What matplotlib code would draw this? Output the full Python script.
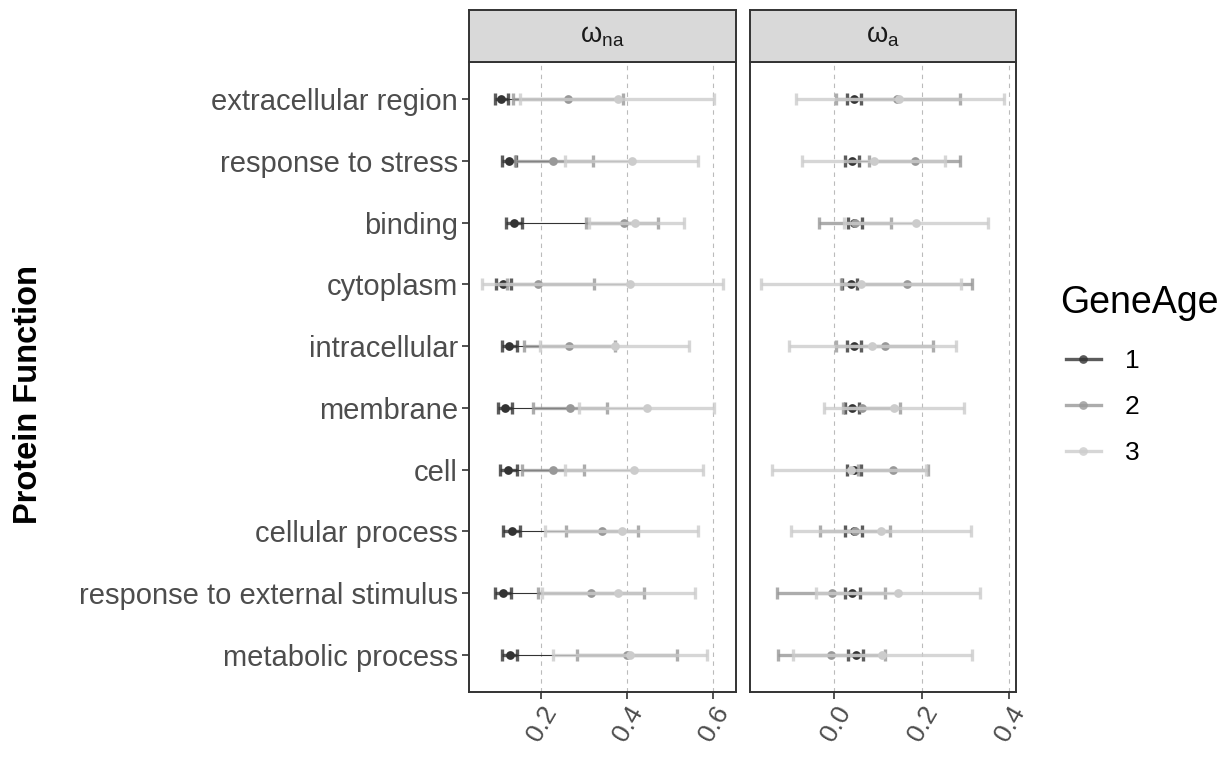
import numpy as np
import matplotlib
matplotlib.use("Agg")
import matplotlib.pyplot as plt
from matplotlib.lines import Line2D

plt.rcParams["font.family"] = ["Liberation Sans", "DejaVu Sans"]
plt.rcParams["mathtext.fontset"] = "custom"
plt.rcParams["mathtext.rm"] = "Liberation Sans"
plt.rcParams["mathtext.it"] = "Liberation Sans:italic"

funcs = ["extracellular region", "response to stress", "binding", "cytoplasm",
         "intracellular", "membrane", "cell", "cellular process",
         "response to external stimulus", "metabolic process"]
ages = ["1", "2", "3"]

# omega_na : point, lower, upper for each gene age
wna_mid = [[0.107, 0.125, 0.137, 0.112, 0.126, 0.116, 0.123, 0.132, 0.111, 0.128],
           [0.262, 0.229, 0.392, 0.192, 0.266, 0.267, 0.227, 0.341, 0.316, 0.399],
           [0.378, 0.411, 0.419, 0.407, 0.372, 0.446, 0.417, 0.388, 0.380, 0.407]]
wna_lo = [[0.093, 0.109, 0.119, 0.095, 0.110, 0.100, 0.105, 0.112, 0.093, 0.110],
          [0.136, 0.140, 0.304, 0.120, 0.160, 0.181, 0.155, 0.258, 0.194, 0.283],
          [0.151, 0.256, 0.312, 0.062, 0.198, 0.288, 0.256, 0.209, 0.202, 0.229]]
wna_hi = [[0.123, 0.142, 0.155, 0.130, 0.145, 0.133, 0.144, 0.151, 0.130, 0.145],
          [0.390, 0.322, 0.471, 0.323, 0.371, 0.354, 0.299, 0.425, 0.439, 0.517],
          [0.603, 0.564, 0.532, 0.624, 0.545, 0.603, 0.576, 0.565, 0.557, 0.587]]

# omega_a
wa_mid = [[0.044, 0.040, 0.046, 0.038, 0.044, 0.040, 0.046, 0.044, 0.040, 0.049],
          [0.143, 0.184, 0.048, 0.166, 0.116, 0.063, 0.134, 0.048, -0.006, -0.007],
          [0.148, 0.090, 0.188, 0.061, 0.087, 0.137, 0.038, 0.108, 0.145, 0.110]]
wa_lo = [[0.030, 0.025, 0.031, 0.018, 0.028, 0.024, 0.028, 0.025, 0.025, 0.032],
         [0.005, 0.080, -0.036, 0.016, 0.005, 0.020, 0.055, -0.033, -0.131, -0.130],
         [-0.087, -0.073, 0.023, -0.168, -0.104, -0.024, -0.142, -0.098, -0.043, -0.095]]
wa_hi = [[0.061, 0.056, 0.064, 0.053, 0.061, 0.057, 0.061, 0.063, 0.058, 0.066],
         [0.287, 0.287, 0.130, 0.316, 0.227, 0.150, 0.214, 0.128, 0.117, 0.116],
         [0.389, 0.253, 0.352, 0.290, 0.279, 0.297, 0.209, 0.313, 0.333, 0.316]]

colors = ["#333333", "#989898", "#cccccc"]
ypos = np.arange(len(funcs))[::-1] + 1  # top category first

fig = plt.figure(figsize=(12.25, 7.57), dpi=100)
W, H = 1225, 757
ax1 = fig.add_axes([469 / W, 1 - 692 / H, 267 / W, 630 / H])
ax2 = fig.add_axes([750 / W, 1 - 692 / H, 266 / W, 630 / H])


def draw_panel(ax, mid, lo, hi):
    # thin connecting lines between the age points of each function
    for k in range(2):
        for j in range(len(funcs)):
            ax.plot([mid[k][j], mid[k + 1][j]], [ypos[j], ypos[j]], color=colors[k],
                    lw=0.8, zorder=2)
    for k in range(3):
        m = np.array(mid[k])
        err = [m - np.array(lo[k]), np.array(hi[k]) - m]
        ax.errorbar(m, ypos, xerr=err, fmt="none", ecolor=colors[k], alpha=0.8,
                    elinewidth=2.4, capsize=4.6, capthick=2.4, zorder=3 + k)
        ax.plot(m, ypos, "o", color=colors[k], ms=6.3, zorder=3 + k, mew=0)
    ax.set_ylim(0.4, 10.6)
    ax.grid(axis="x", color="#bbbbbb", ls=(0, (4, 4)), lw=0.8)
    ax.set_axisbelow(True)
    for s in ax.spines.values():
        s.set_color("#333333")
        s.set_linewidth(1.4)
    ax.tick_params(axis="x", length=5, width=1.2, color="#333333", labelsize=19,
                   labelcolor="#4d4d4d", labelrotation=60, pad=2)


draw_panel(ax1, wna_mid, wna_lo, wna_hi)
draw_panel(ax2, wa_mid, wa_lo, wa_hi)

ax1.set_xlim(0.0326, 0.6535)
ax1.set_xticks([0.2, 0.4, 0.6])
ax1.set_xticklabels(["0.2", "0.4", "0.6"])
ax2.set_xlim(-0.193, 0.416)
ax2.set_xticks([0.0, 0.2, 0.4])
ax2.set_xticklabels(["0.0", "0.2", "0.4"])
for lab in ax1.get_xticklabels() + ax2.get_xticklabels():
    lab.set_ha("right")
    lab.set_rotation_mode("anchor")

ax1.set_yticks(ypos)
ax1.set_yticklabels(funcs)
ax1.tick_params(axis="y", length=5, width=1.2, color="#333333", labelsize=21,
                labelcolor="#4d4d4d", pad=3)
ax2.set_yticks([])

ax1.set_ylabel("Protein Function", fontsize=23.5, fontweight="bold")
ax1.yaxis.set_label_coords(-(469 - 44) / 267, (692 - 395) / 630)

# facet strips
for ax, lab in [(ax1, "ω$_{\\mathrm{na}}$"), (ax2, "ω$_{\\mathrm{a}}$")]:
    pos = ax.get_position()
    sax = fig.add_axes([pos.x0, 1 - 62 / H, pos.width, 52 / H])
    sax.set_facecolor("#d9d9d9")
    sax.set_xticks([])
    sax.set_yticks([])
    for s in sax.spines.values():
        s.set_color("#333333")
        s.set_linewidth(1.4)
    sax.text(0.5, 0.5, lab, ha="center", va="center", fontsize=19.5, color="#1a1a1a",
             transform=sax.transAxes)

# legend
fig.text(1060 / W, 1 - 303 / H, "GeneAge", fontsize=27, ha="left", va="center",
         color="black")
handles = [Line2D([0], [0], color=c, lw=2.4, alpha=0.8, marker="o", ms=6.3,
                  markerfacecolor=c, markeredgewidth=0) for c in colors]
leg = fig.legend(handles, ages, loc="upper left",
                 bbox_to_anchor=(1042 / W, 1 - 325 / H), frameon=False,
                 fontsize=19, handlelength=1.33, labelspacing=0.84,
                 handletextpad=0.9)

fig.savefig("out.png", dpi=100)
